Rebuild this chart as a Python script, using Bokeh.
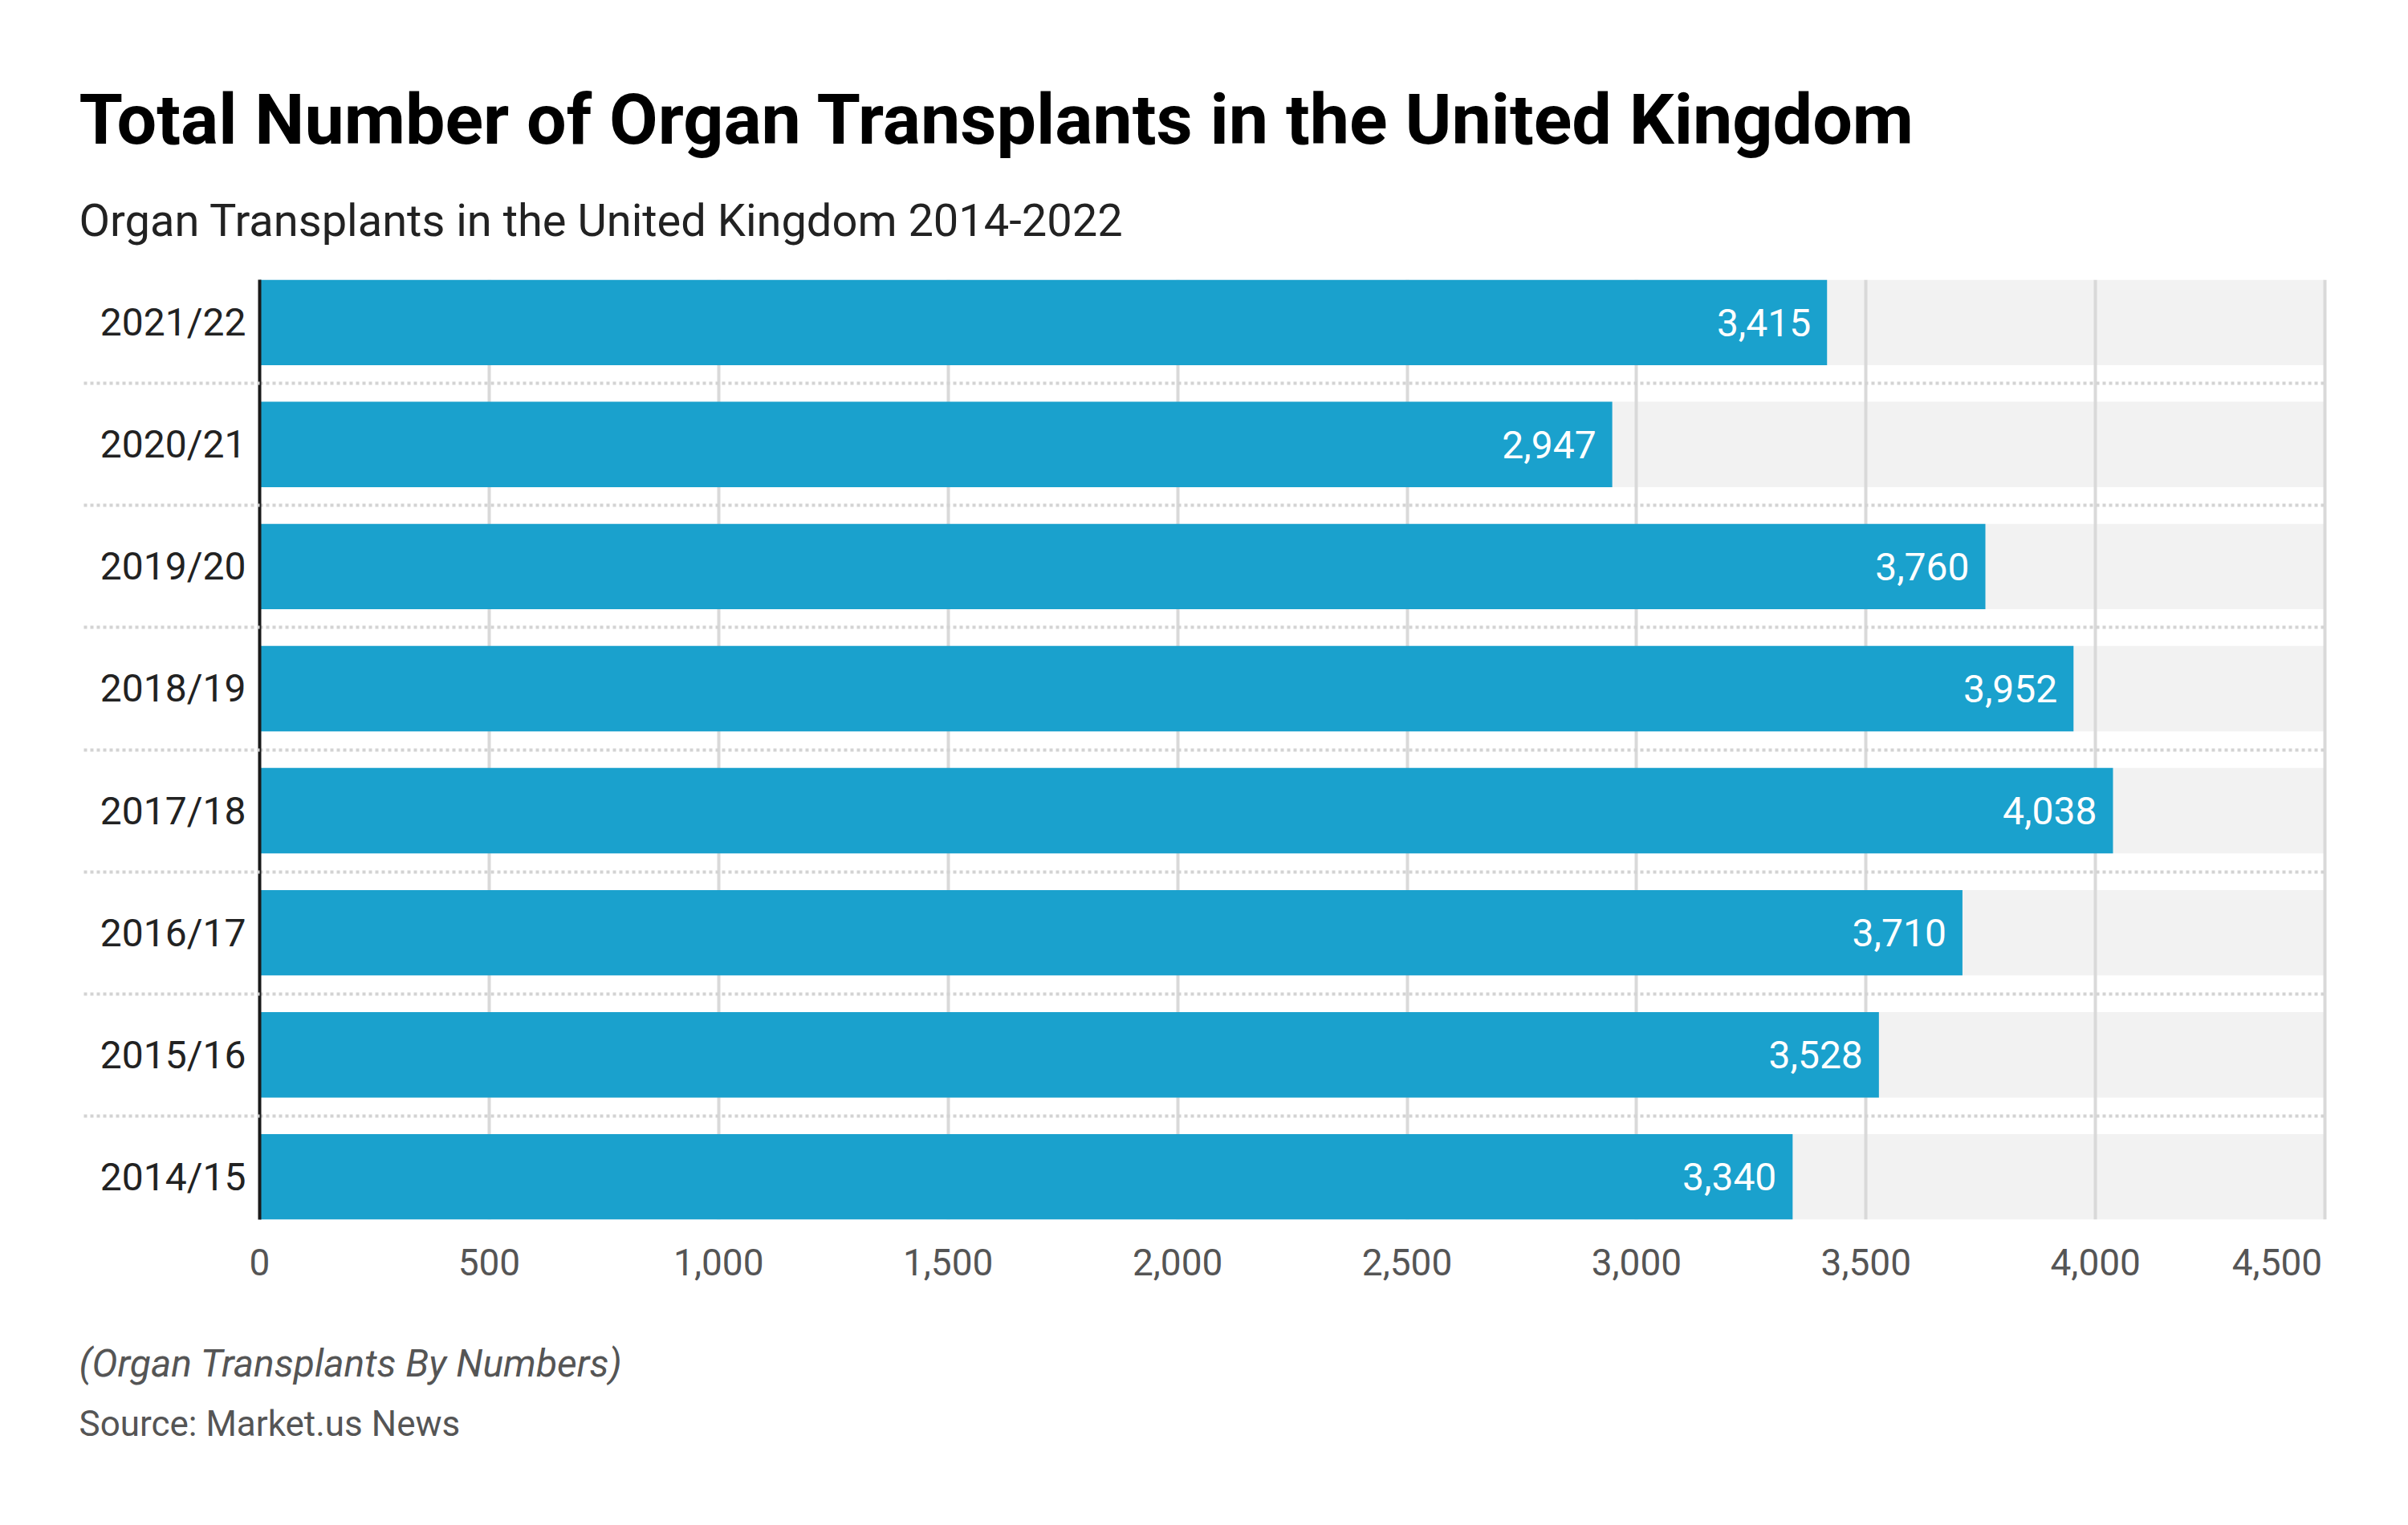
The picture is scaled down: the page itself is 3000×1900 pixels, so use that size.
from bokeh.plotting import figure
from bokeh.models import ColumnDataSource, FixedTicker, Range1d, Title
from bokeh.core.properties import value
from bokeh.embed import file_html
from bokeh.resources import INLINE

# ---- data ----
years = ["2014/15", "2015/16", "2016/17", "2017/18", "2018/19", "2019/20", "2020/21", "2021/22"]
transplants = [3340, 3528, 3710, 4038, 3952, 3760, 2947, 3415]
x_ticks = [0, 500, 1000, 1500, 2000, 2500, 3000, 3500, 4000, 4500]
x_tick_labels = ["0", "500", "1,000", "1,500", "2,000", "2,500", "3,000", "3,500", "4,000", "4,500"]

title_text = "Total Number of Organ Transplants in the United Kingdom"
subtitle_text = "Organ Transplants in the United Kingdom 2014-2022"
note_text = "(Organ Transplants By Numbers)"
source_text = "Source: Market.us News"

FONT = "Roboto"
BAR_COLOR = "#1aa1cd"
BG_COLOR = "#f2f2f2"

idx = list(range(len(years)))
x_max = x_ticks[-1]
src = ColumnDataSource(dict(
    y=idx,
    v=transplants,
    full=[x_max] * len(years),
    lab=[f"{v:,}" for v in transplants],
))

p = figure(
    width=2984, height=1884,
    output_backend="svg", toolbar_location=None,
    x_range=Range1d(0, x_max + 5),
    y_range=Range1d(-0.35, len(years) - 1 + 0.35),
    min_border_left=323, min_border_right=85,
    min_border_top=348, min_border_bottom=365,
)
p.outline_line_color = None

# background track bars (below grid)
p.hbar(y="y", left=0, right="full", height=0.7, source=src,
       fill_color=BG_COLOR, line_color=None, level="image")
# value bars
p.hbar(y="y", left=0, right="v", height=0.7, source=src,
       fill_color=BAR_COLOR, line_color=None)
# value labels
p.text(x="v", y="y", text="lab", source=src, x_offset=-20,
       text_align="right", text_baseline="middle", text_color="white",
       text_font=value(FONT), text_font_size="48px")

# x axis
xt = FixedTicker(ticks=x_ticks)
p.xaxis.ticker = xt
overrides = {t: l for t, l in zip(x_ticks, x_tick_labels)}
overrides[x_ticks[-1]] = x_tick_labels[-1] + "\u00a0" * 8
p.xaxis.major_label_overrides = overrides
p.xaxis.axis_line_color = None
p.xaxis.major_tick_line_color = None
p.xaxis.minor_tick_line_color = None
p.xaxis.major_tick_out = 0
p.xaxis.major_label_text_font = FONT
p.xaxis.major_label_text_font_size = "46px"
p.xaxis.major_label_text_color = "#555555"
p.xaxis.major_label_standoff = 26

# y axis (minor ticks = dotted separators reaching into the label area)
yt = FixedTicker(ticks=idx, minor_ticks=[i + 0.5 for i in idx[:-1]])
p.yaxis.ticker = yt
p.yaxis.major_label_overrides = {i: y for i, y in zip(idx, years)}
p.yaxis.axis_line_color = "#1a1a1a"
p.yaxis.axis_line_width = 4
p.yaxis.major_tick_line_color = None
p.yaxis.major_tick_out = 0
p.yaxis.major_tick_in = 0
p.yaxis.minor_tick_in = 0
p.yaxis.minor_tick_out = 219
p.yaxis.minor_tick_line_color = "#d3d3d3"
p.yaxis.minor_tick_line_width = 4
p.yaxis.minor_tick_line_dash = "4 4"
p.yaxis.major_label_text_font = FONT
p.yaxis.major_label_text_font_size = "48px"
p.yaxis.major_label_text_color = "#222222"
p.yaxis.major_label_standoff = 17 - 219

# grids
p.xgrid.ticker = xt
p.xgrid.grid_line_color = "#d9d9d9"
p.xgrid.grid_line_width = 4
p.ygrid.ticker = yt
p.ygrid.grid_line_color = None
p.ygrid.minor_grid_line_color = "#d3d3d3"
p.ygrid.minor_grid_line_width = 4
p.ygrid.minor_grid_line_dash = "4 4"

# ---- titles (above) and footnotes (below) ----
OFF = -225  # from frame left to the page's text column


def make_title(text, size, color, style="normal", standoff=0):
    return Title(text=text, align="left", offset=OFF, standoff=standoff,
                 text_font=FONT, text_font_size=size, text_color=color,
                 text_font_style=style, vertical_align="bottom")


# above: added from the frame outward
p.add_layout(make_title(subtitle_text, "56px", "#222222", standoff=81), "above")
p.add_layout(make_title(title_text, "88px", "#000000", "bold", standoff=0), "above")
p.add_layout(make_title(" ", "1px", "#ffffff", standoff=91), "above")

# below: after the x axis, outward
p.add_layout(make_title(" ", "1px", "#ffffff", standoff=62), "below")
p.add_layout(make_title(note_text, "48px", "#555555", "italic", standoff=0), "below")
p.add_layout(make_title(source_text, "44px", "#555555", standoff=38), "below")

open("out.html", "w").write(file_html(p, INLINE))
